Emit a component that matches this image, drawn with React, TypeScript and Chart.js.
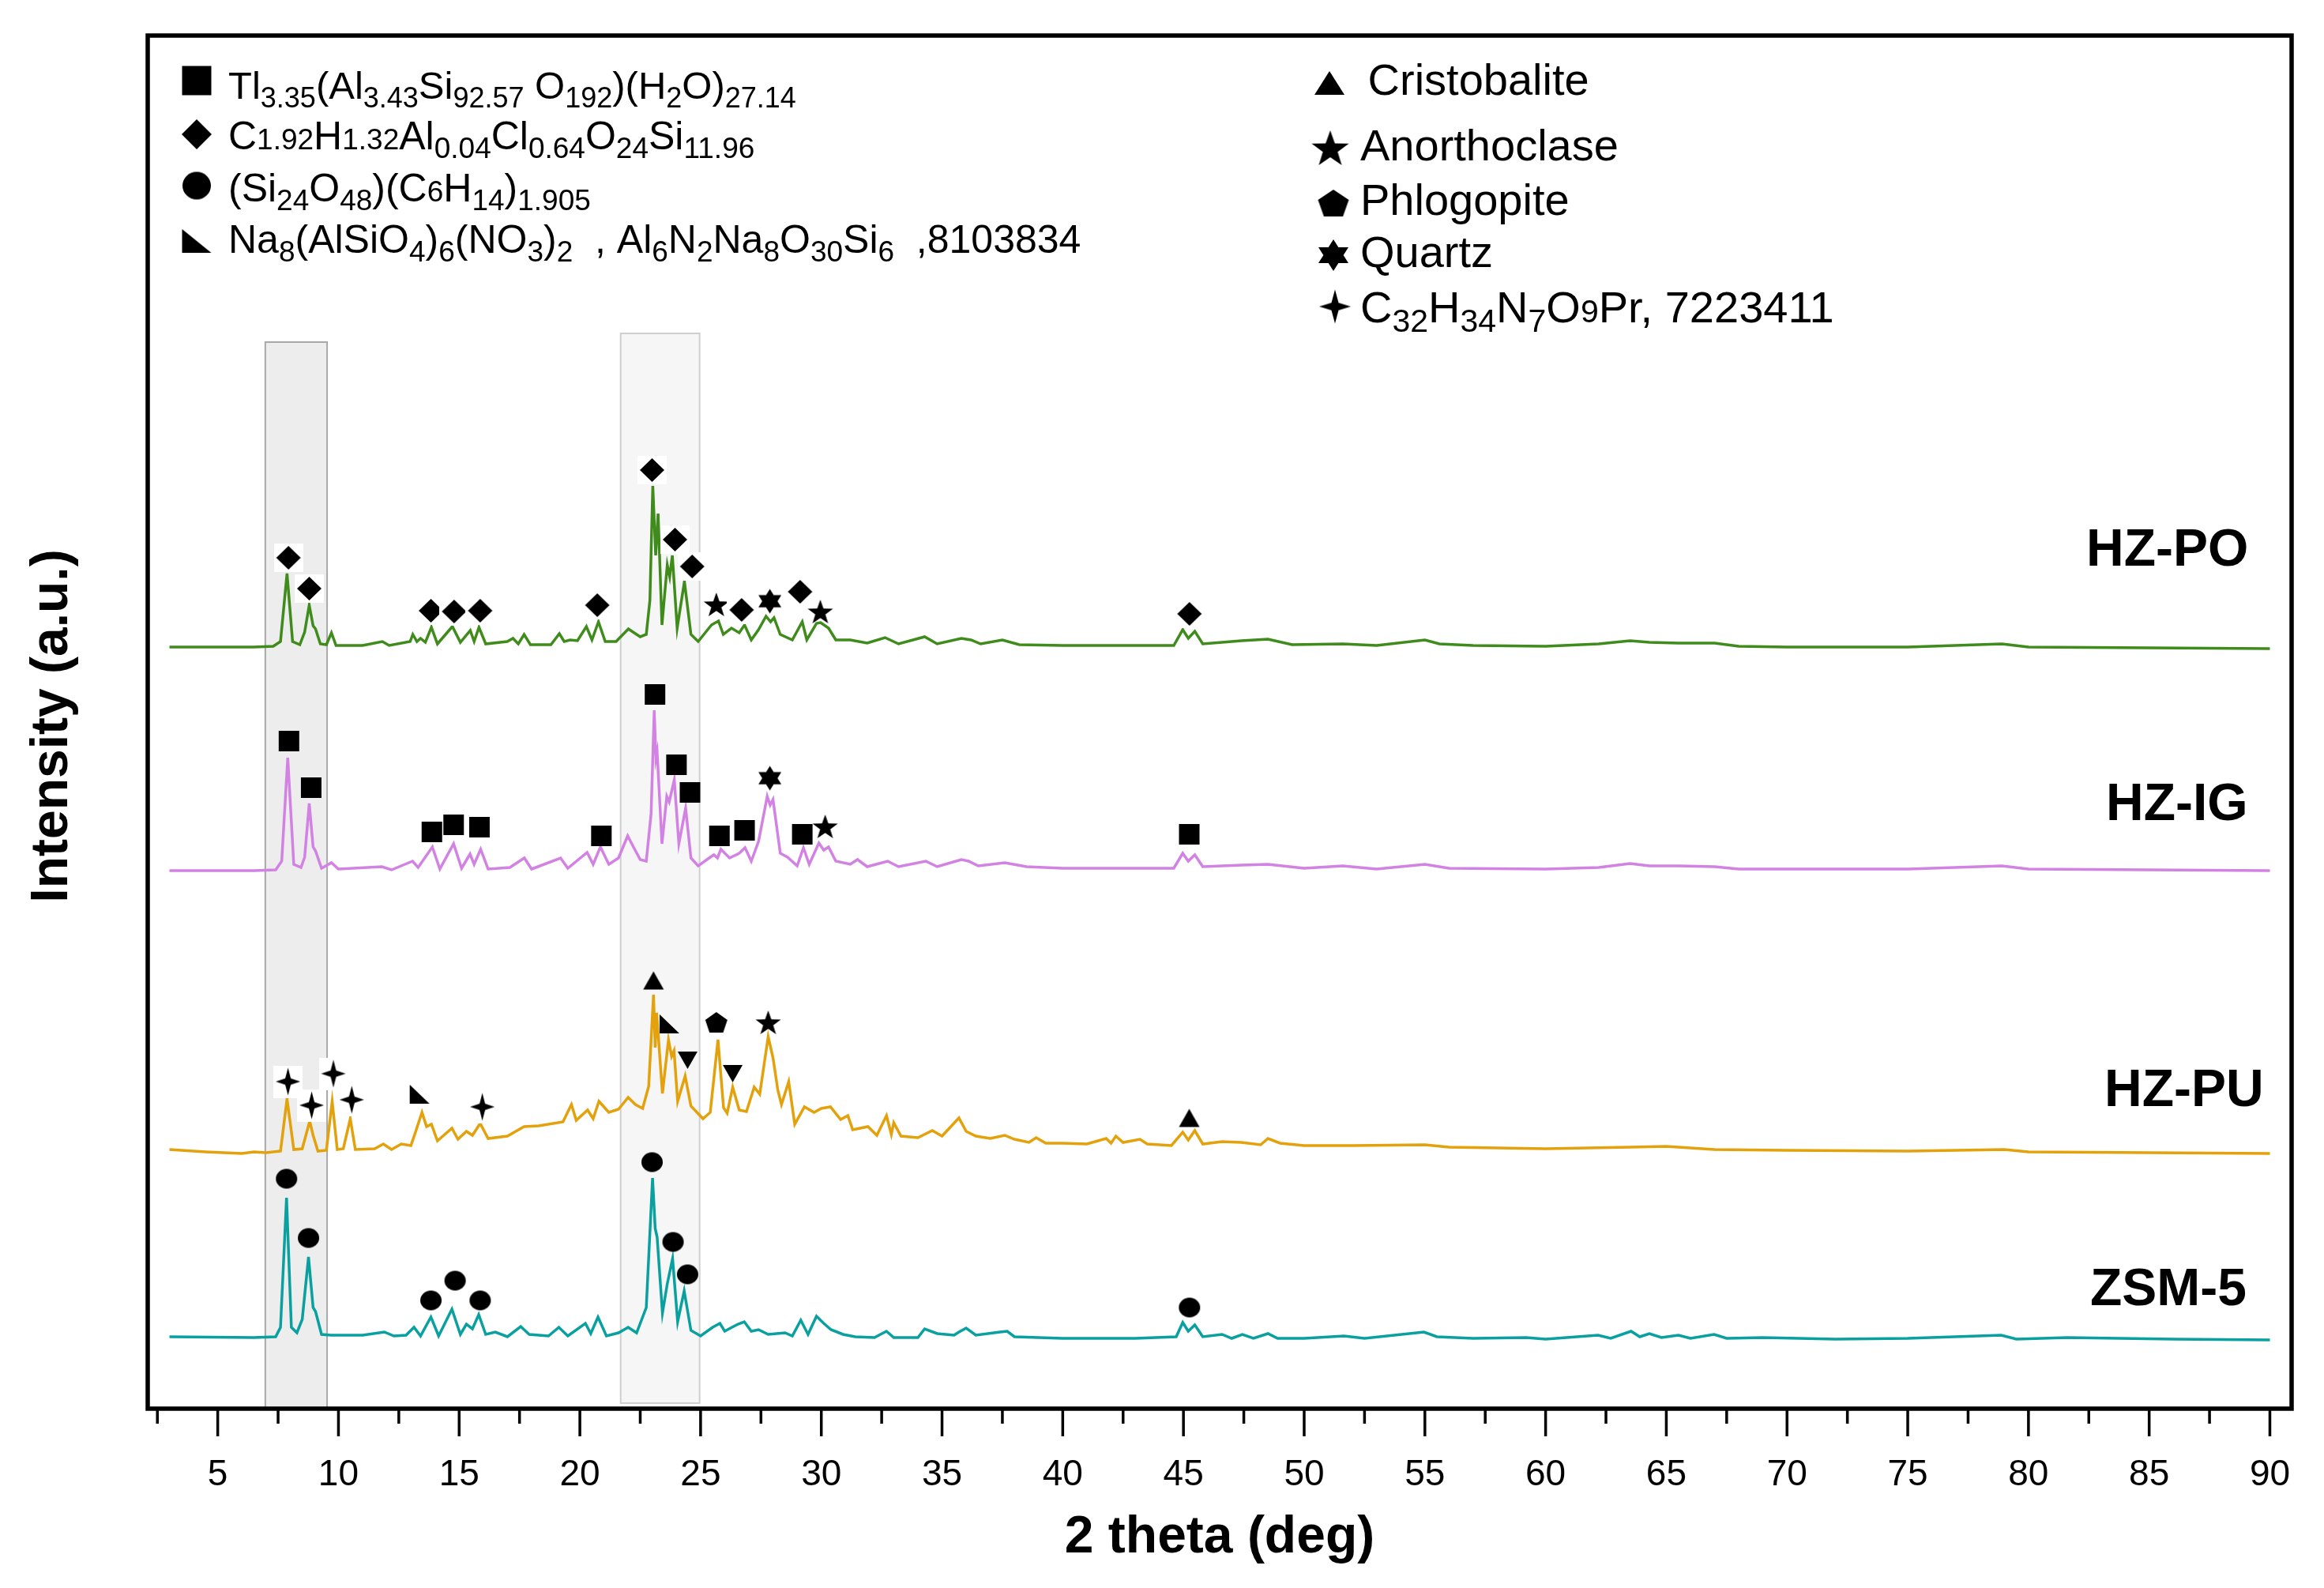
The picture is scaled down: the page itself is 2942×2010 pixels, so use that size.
import React, { useEffect, useRef } from 'react';
import { Chart, registerables } from 'chart.js';

Chart.register(...registerables);

// ---------------- DATA ----------------
const X_MIN = 2.1;
const X_MAX = 90.9;
const Y_MIN = 0;
const Y_MAX = 1738; // stacked intensity (a.u.)

const MAJOR_TICKS = [5, 10, 15, 20, 25, 30, 35, 40, 45, 50, 55, 60, 65, 70, 75, 80, 85, 90];
const MINOR_TICKS = [2.5, 7.5, 12.5, 17.5, 22.5, 27.5, 32.5, 37.5, 42.5, 47.5, 52.5, 57.5, 62.5, 67.5, 72.5, 77.5, 82.5, 87.5];

const SERIES_NAMES = ['HZ-PO', 'HZ-IG', 'HZ-PU', 'ZSM-5'];

// 2theta, stacked intensity
const HZ_PO: [number, number][] = [
  [3.0, 964], [6.5, 964], [7.3, 965], [7.6, 971], [7.87, 1057], [8.1, 971], [8.4, 967], [8.6, 983], [8.79, 1017], [8.95, 991],
  [9.05, 987], [9.25, 968], [9.5, 967], [9.71, 982], [9.9, 966], [11.0, 966], [11.82, 971], [12.1, 966], [12.97, 971], [13.08, 980],
  [13.25, 971], [13.4, 975], [13.6, 970], [13.85, 989], [14.1, 968], [14.72, 990], [15.05, 970], [15.46, 985], [15.62, 971], [15.82, 989],
  [16.1, 968], [16.99, 971], [17.23, 975], [17.45, 968], [17.69, 980], [17.95, 967], [18.8, 967], [19.15, 981], [19.35, 971], [19.6, 973],
  [19.9, 972], [20.27, 990], [20.5, 973], [20.77, 996], [21.05, 971], [21.5, 971], [22.01, 987], [22.2, 983], [22.5, 977], [22.75, 980],
  [22.9, 1023], [23.02, 1168], [23.14, 1080], [23.24, 1133], [23.4, 992], [23.62, 1068], [23.72, 1053], [23.83, 1080], [24.03, 988], [24.33, 1047],
  [24.6, 980], [24.9, 971], [25.45, 992], [25.74, 997], [25.94, 980], [26.28, 988], [26.6, 982], [26.82, 992], [27.1, 973], [27.4, 986],
  [27.71, 1003], [27.9, 996], [28.04, 1001], [28.3, 980], [28.8, 973], [29.21, 996], [29.4, 973], [29.8, 994], [29.97, 995], [30.3, 988],
  [30.6, 973], [31.2, 973], [31.9, 969], [32.64, 976], [33.2, 968], [34.28, 977], [34.8, 968], [35.8, 975], [36.2, 973], [36.6, 968],
  [37.5, 973], [38.2, 967], [40, 966], [42, 966], [44.6, 966], [44.97, 986], [45.2, 975], [45.47, 984], [45.8, 968], [46.6, 970],
  [47.4, 972], [48.5, 974], [49.5, 967], [51.6, 968], [53, 966], [55.0, 973], [55.6, 968], [57, 966], [60, 965], [62.2, 968],
  [63.5, 972], [64.3, 970], [65.5, 969], [67, 969], [68, 965], [70, 964], [75, 964], [78.9, 968], [80, 964], [85, 963], [90, 962],
];

const HZ_IG: [number, number][] = [
  [3.0, 681], [6.5, 681], [7.4, 682], [7.65, 693], [7.9, 824], [8.15, 689], [8.45, 685], [8.6, 698], [8.79, 766], [8.95, 711],
  [9.05, 706], [9.3, 684], [9.71, 691], [10, 683], [11.8, 686], [12.2, 682], [13.07, 693], [13.3, 685], [13.89, 711], [14.2, 683],
  [14.77, 715], [15.1, 684], [15.45, 702], [15.62, 689], [15.89, 708], [16.2, 683], [17.1, 685], [17.7, 697], [18.0, 683], [19.2, 697],
  [19.5, 684], [20.3, 704], [20.55, 689], [20.85, 711], [21.2, 689], [21.6, 697], [21.98, 725], [22.2, 712], [22.5, 695], [22.75, 693],
  [22.95, 753], [23.08, 884], [23.15, 823], [23.2, 831], [23.4, 715], [23.6, 775], [23.7, 768], [23.91, 796], [24.1, 715], [24.38, 760],
  [24.6, 697], [24.9, 687], [25.4, 698], [25.55, 701], [25.7, 697], [25.84, 708], [26.2, 697], [26.6, 703], [26.84, 710], [27.1, 693],
  [27.4, 718], [27.76, 775], [27.88, 764], [28.0, 771], [28.3, 703], [28.6, 698], [29.0, 687], [29.26, 710], [29.5, 689], [29.9, 716],
  [30.1, 707], [30.3, 711], [30.6, 693], [31.2, 689], [31.5, 695], [31.9, 686], [32.75, 693], [33.2, 686], [34.33, 693], [34.8, 686],
  [35.8, 695], [36.1, 693], [36.5, 687], [37.6, 691], [38.5, 686], [40, 684], [42, 684], [44.6, 684], [44.97, 703], [45.2, 693],
  [45.47, 701], [45.8, 686], [47.4, 688], [48.5, 689], [50, 684], [51.6, 687], [53, 683], [55, 689], [56, 684], [60, 683],
  [62.2, 685], [63.5, 690], [64.3, 687], [65.5, 687], [67, 686], [68, 683], [72, 683], [75, 683], [78.9, 687], [80, 683],
  [85, 682], [90, 681],
];

const HZ_PU: [number, number][] = [
  [3.0, 328], [4.5, 325], [6.0, 323], [6.5, 325], [7.0, 324], [7.6, 326], [7.87, 392], [8.15, 328], [8.5, 329], [8.81, 364],
  [8.95, 346], [9.15, 326], [9.5, 327], [9.74, 389], [9.95, 328], [10.2, 329], [10.49, 367], [10.7, 328], [11.5, 329], [11.86, 335],
  [12.2, 328], [12.6, 335], [13.0, 333], [13.18, 349], [13.46, 375], [13.65, 357], [13.85, 360], [14.1, 339], [14.7, 355], [14.95, 341],
  [15.3, 351], [15.55, 346], [15.87, 361], [16.2, 342], [17.0, 345], [17.69, 357], [18.3, 358], [19.3, 363], [19.65, 385], [19.85, 365],
  [20.32, 378], [20.55, 367], [20.79, 389], [21.2, 375], [21.6, 379], [22.0, 394], [22.3, 385], [22.6, 380], [22.85, 408], [23.05, 524],
  [23.12, 457], [23.18, 501], [23.42, 399], [23.67, 467], [23.8, 446], [23.9, 453], [24.05, 389], [24.36, 421], [24.6, 383], [25.1, 367],
  [25.4, 375], [25.72, 467], [25.95, 381], [26.1, 374], [26.33, 407], [26.6, 378], [26.9, 376], [27.22, 407], [27.45, 398], [27.8, 471],
  [28.0, 444], [28.2, 403], [28.35, 385], [28.65, 414], [28.9, 360], [29.3, 382], [29.7, 375], [30.0, 380], [30.38, 382], [30.8, 366],
  [31.1, 371], [31.3, 353], [31.93, 357], [32.3, 346], [32.7, 371], [32.9, 347], [33.0, 362], [33.3, 345], [34.0, 343], [34.6, 352],
  [35.0, 345], [35.7, 368], [36.0, 351], [36.4, 345], [37.0, 342], [37.6, 346], [38.0, 341], [38.6, 337], [38.9, 343], [39.3, 336],
  [40, 336], [41.0, 335], [41.8, 342], [42.0, 336], [42.2, 345], [42.5, 337], [43.2, 341], [43.5, 335], [44.5, 333], [44.97, 350],
  [45.2, 340], [45.47, 352], [45.8, 335], [46.6, 338], [47.4, 337], [48.2, 334], [48.5, 342], [49, 336], [50, 333], [52, 333],
  [55, 334], [56, 331], [60, 329], [63.5, 331], [65, 332], [67, 328], [70, 327], [75, 326], [79, 328], [80, 325],
  [85, 324], [90, 323],
];

const ZSM_5: [number, number][] = [
  [3.0, 91], [6.5, 90], [7.4, 91], [7.6, 103], [7.85, 267], [8.05, 103], [8.28, 96], [8.5, 113], [8.76, 192], [8.95, 128],
  [9.05, 123], [9.3, 94], [9.7, 93], [11.0, 93], [11.9, 97], [12.3, 92], [12.8, 93], [13.13, 103], [13.4, 92], [13.83, 116],
  [14.15, 92], [14.7, 126], [15.05, 94], [15.3, 107], [15.55, 101], [15.81, 119], [16.1, 94], [16.5, 97], [17.0, 91], [17.55, 104],
  [17.9, 94], [18.7, 92], [19.13, 103], [19.5, 92], [20.23, 108], [20.45, 95], [20.75, 116], [21.1, 92], [21.6, 96], [22.0, 103],
  [22.35, 96], [22.75, 128], [23.01, 292], [23.12, 228], [23.2, 217], [23.42, 121], [23.62, 158], [23.84, 190], [24.05, 110], [24.32, 149],
  [24.6, 99], [25.0, 92], [25.5, 103], [25.8, 108], [26.0, 98], [26.3, 103], [26.55, 107], [26.81, 110], [27.1, 98], [27.4, 100],
  [27.8, 94], [28.5, 96], [28.8, 92], [29.15, 112], [29.45, 94], [29.8, 117], [30.1, 108], [30.4, 100], [30.9, 94], [31.4, 91],
  [32.2, 90], [32.7, 98], [33.0, 90], [34.0, 90], [34.28, 101], [34.8, 95], [35.5, 93], [35.7, 97], [36.0, 102], [36.4, 93],
  [37.4, 97], [37.7, 98], [38.0, 91], [40, 89], [43, 89], [44.7, 91], [44.97, 109], [45.2, 98], [45.47, 106], [45.8, 91],
  [46.6, 94], [47.0, 89], [47.44, 94], [47.9, 89], [48.5, 95], [48.9, 89], [50, 89], [51.65, 92], [52.5, 89], [54.96, 97],
  [55.5, 91], [57, 89], [59.2, 90], [60, 88], [62.17, 93], [62.7, 89], [63.54, 98], [63.9, 91], [64.3, 95], [64.8, 90],
  [65.5, 93], [66.0, 89], [66.98, 94], [67.5, 89], [69.0, 90], [72, 88], [75, 89], [78.87, 93], [79.5, 88], [81.6, 90],
  [86, 88], [90, 87],
];

// Phase markers: [2theta, stacked intensity]
const PO_DIAMONDS: [number, number][] = [
  [7.93, 1077], [8.79, 1038], [13.83, 1010], [14.79, 1009], [15.87, 1010], [20.72, 1017],
  [22.99, 1188], [23.94, 1100], [24.65, 1066], [26.70, 1011], [29.12, 1034], [45.25, 1006],
];
const PO_STARS: [number, number][] = [[25.65, 1018], [29.96, 1009]];
const PO_QUARTZ: [number, number][] = [[27.87, 1022]];

const IG_SQUARES: [number, number][] = [
  [7.95, 845], [8.87, 786], [13.87, 730], [14.77, 739], [15.84, 736], [20.89, 725],
  [23.11, 904], [24.0, 815], [24.56, 780], [25.78, 725], [26.82, 732], [29.21, 727], [45.24, 727],
];
const IG_QUARTZ: [number, number][] = [[27.87, 798]];
const IG_STARS: [number, number][] = [[30.16, 737]];

const PU_C32: [number, number][] = [[7.91, 414], [8.89, 384], [9.79, 424], [10.55, 391], [15.96, 382]];
const PU_NA8: [number, number][] = [[13.36, 398], [23.71, 487]];
const PU_CRISTO: [number, number][] = [[23.05, 542], [45.24, 368]];
const PU_DOWN: [number, number][] = [[24.46, 441], [26.33, 424]];
const PU_PHLOGO: [number, number][] = [[25.65, 489]];
const PU_STARS: [number, number][] = [[27.8, 489]];

const ZSM_CIRCLES: [number, number][] = [
  [7.85, 291], [8.76, 216], [13.83, 137], [14.83, 162], [15.87, 137],
  [22.99, 312], [23.86, 211], [24.46, 170], [45.25, 128],
];

// Highlighted 2theta ranges: [from, to], top & bottom in intensity units
const SHADE_RANGES: [number, number][] = [[6.97, 9.53], [21.69, 24.96]];
const SHADE_TOPS = [1350, 1361];
const SHADE_BOTTOMS = [0, 7];

// Legend texts (segments: n = normal, s = lowered subscript, b = small at baseline)
const LEFT_LEGEND: { marker: string; segs: [string, string][] }[] = [
  { marker: 'square', segs: [['Tl', 'n'], ['3.35', 's'], ['(Al', 'n'], ['3.43', 's'], ['Si', 'n'], ['92.57', 's'], [' O', 'n'], ['192', 's'], [')(H', 'n'], ['2', 's'], ['O)', 'n'], ['27.14', 's']] },
  { marker: 'diamond', segs: [['C', 'n'], ['1.92', 'b'], ['H', 'n'], ['1.32', 'b'], ['Al', 'n'], ['0.04', 's'], ['Cl', 'n'], ['0.64', 's'], ['O', 'n'], ['24', 's'], ['Si', 'n'], ['11.96', 's']] },
  { marker: 'circle', segs: [['(Si', 'n'], ['24', 's'], ['O', 'n'], ['48', 's'], [')(C', 'n'], ['6', 'b'], ['H', 'n'], ['14', 's'], [')', 'n'], ['1.905', 's']] },
  { marker: 'rightTri', segs: [['Na', 'n'], ['8', 's'], ['(AlSiO', 'n'], ['4', 's'], [')', 'n'], ['6', 's'], ['(NO', 'n'], ['3', 's'], [')', 'n'], ['2', 's'], ['  , Al', 'n'], ['6', 's'], ['N', 'n'], ['2', 's'], ['Na', 'n'], ['8', 's'], ['O', 'n'], ['30', 's'], ['Si', 'n'], ['6', 's'], ['  ,8103834', 'n']] },
];
const RIGHT_LEGEND: { marker: string; segs: [string, string][] }[] = [
  { marker: 'triUp', segs: [[' Cristobalite', 'n']] },
  { marker: 'star', segs: [['Anorthoclase', 'n']] },
  { marker: 'pentagon', segs: [['Phlogopite', 'n']] },
  { marker: 'hexagram', segs: [['Quartz', 'n']] },
  { marker: 'fourStar', segs: [['C', 'n'], ['32', 's'], ['H', 'n'], ['34', 's'], ['N', 'n'], ['7', 's'], ['O', 'n'], ['9', 'b'], ['Pr, 7223411', 'n']] },
];

const X_TITLE = '2 theta (deg)';
const Y_TITLE = 'Intensity (a.u.)';

// ---------------- STYLE ----------------
const FONT = '"Liberation Sans", Arial, Helvetica, sans-serif';
const COLORS = ['#3f8b1c', '#d282e3', '#e3a10c', '#0aa0a0'];
const W = 2942;
const H = 2010;
const AREA = { left: 187, top: 45, right: 2901, bottom: 1783 };

const LABEL_POS = [
  { x: 2641, y: 716 },
  { x: 2666, y: 1038 },
  { x: 2664, y: 1400 },
  { x: 2646, y: 1652 },
];
const LEFT_LEG_POS = { markerX: 249, textX: 289, baselines: [125, 189, 255, 320], markerY: [102, 170, 235, 305], fonts: [49, 50, 50, 50] };
const RIGHT_LEG_POS = { markerX: [1683, 1684, 1688, 1688, 1690], textX: [1716, 1722, 1722, 1722, 1722], baselines: [120, 203, 272, 338, 408], markerY: [105, 187, 257, 323, 388] };

const MARKER_SIZE: Record<string, [number, number]> = {
  square: [26, 26], diamond: [31, 30], circle: [27, 25], star: [32, 30], hexagram: [29, 31],
  triUp: [26, 23], triDown: [25, 22], rightTri: [25, 24], pentagon: [28, 26], fourStar: [31, 35],
};
const LEGEND_MARKER_SIZE: Record<string, [number, number]> = {
  square: [37, 37], diamond: [38, 38], circle: [36, 35], rightTri: [37, 30],
  triUp: [38, 30], star: [47, 44], pentagon: [39, 34], hexagram: [38, 40], fourStar: [40, 43],
};

function makeMarker(shape: string, w: number, h: number, bg = false): HTMLCanvasElement {
  const pad = bg ? 3 : 1;
  const c = document.createElement('canvas');
  c.width = Math.ceil(w + pad * 2);
  c.height = Math.ceil(h + pad * 2);
  const g = c.getContext('2d') as CanvasRenderingContext2D;
  if (bg) {
    g.fillStyle = '#ffffff';
    g.fillRect(0, 0, c.width, c.height);
  }
  g.translate(pad, pad);
  g.fillStyle = '#000000';
  g.beginPath();
  const cx = w / 2;
  const poly = (pts: [number, number][]) => {
    pts.forEach(([px, py], i) => (i === 0 ? g.moveTo(px, py) : g.lineTo(px, py)));
    g.closePath();
  };
  if (shape === 'square') {
    g.rect(0, 0, w, h);
  } else if (shape === 'diamond') {
    poly([[cx, 0], [w, h / 2], [cx, h], [0, h / 2]]);
  } else if (shape === 'circle') {
    g.ellipse(cx, h / 2, w / 2, h / 2, 0, 0, Math.PI * 2);
  } else if (shape === 'triUp') {
    poly([[cx, 0], [w, h], [0, h]]);
  } else if (shape === 'triDown') {
    poly([[0, 0], [w, 0], [cx, h]]);
  } else if (shape === 'rightTri') {
    poly([[0, 0], [w, h], [0, h]]);
  } else if (shape === 'pentagon' || shape === 'star') {
    const R = Math.min(w / 1.902, h / 1.809);
    const cy = R + (h - 1.809 * R) / 2;
    const pts: [number, number][] = [];
    const n = shape === 'pentagon' ? 5 : 10;
    for (let k = 0; k < n; k++) {
      const a = -Math.PI / 2 + (k * 2 * Math.PI) / n;
      const r = shape === 'star' && k % 2 === 1 ? R * 0.4 : R;
      pts.push([cx + r * Math.cos(a) * (w / (1.902 * R)), cy + r * Math.sin(a)]);
    }
    poly(pts);
  } else if (shape === 'hexagram') {
    const R = h / 2;
    const sx = w / (1.732 * R);
    const cy = h / 2;
    const tri = (off: number) => {
      const pts: [number, number][] = [];
      for (let k = 0; k < 3; k++) {
        const a = off + (k * 2 * Math.PI) / 3;
        pts.push([cx + R * Math.cos(a) * sx, cy + R * Math.sin(a)]);
      }
      poly(pts);
    };
    tri(-Math.PI / 2);
    tri(Math.PI / 2);
  } else if (shape === 'fourStar') {
    const pts: [number, number][] = [];
    for (let k = 0; k < 8; k++) {
      const a = -Math.PI / 2 + (k * Math.PI) / 4;
      const f = k % 2 === 1 ? 0.32 : 1;
      pts.push([cx + Math.cos(a) * (w / 2) * f, h / 2 + Math.sin(a) * (h / 2) * f]);
    }
    poly(pts);
  }
  g.fill();
  return c;
}

function drawRich(ctx: CanvasRenderingContext2D, x: number, y: number, segs: [string, string][], F: number, fs: number, drop: number) {
  let cx = x;
  ctx.textAlign = 'left';
  ctx.textBaseline = 'alphabetic';
  ctx.fillStyle = '#000';
  segs.forEach(([t, m]) => {
    if (m === 'n') {
      ctx.font = `${F}px ${FONT}`;
      ctx.fillText(t, cx, y);
    } else {
      ctx.font = `${fs}px ${FONT}`;
      ctx.fillText(t, cx, m === 's' ? y + drop : y);
    }
    cx += ctx.measureText(t).width;
  });
}

const toPts = (arr: [number, number][]) => arr.map(([x, y]) => ({ x, y }));

export default function App() {
  const ref = useRef<HTMLCanvasElement>(null);

  useEffect(() => {
    const canvas = ref.current;
    if (!canvas) return;

    const mk: Record<string, HTMLCanvasElement> = {};
    Object.keys(MARKER_SIZE).forEach((k) => {
      const [w, h] = MARKER_SIZE[k];
      mk[k] = makeMarker(k, w, h, k === 'diamond' || k === 'fourStar');
    });
    const legendMk: Record<string, HTMLCanvasElement> = {};
    Object.keys(LEGEND_MARKER_SIZE).forEach((k) => {
      const [w, h] = LEGEND_MARKER_SIZE[k];
      legendMk[k] = makeMarker(k, w, h, false);
    });

    const lineSets = [HZ_PO, HZ_IG, HZ_PU, ZSM_5].map((arr, i) => ({
      label: SERIES_NAMES[i],
      data: toPts(arr),
      showLine: true,
      borderColor: COLORS[i],
      backgroundColor: COLORS[i],
      borderWidth: 3.5,
      pointRadius: 0,
      tension: 0,
      fill: false,
      order: 2,
    }));

    const markerDefs: [string, [number, number][]][] = [
      ['diamond', PO_DIAMONDS], ['star', PO_STARS], ['hexagram', PO_QUARTZ],
      ['square', IG_SQUARES], ['hexagram', IG_QUARTZ], ['star', IG_STARS],
      ['fourStar', PU_C32], ['rightTri', PU_NA8], ['triUp', PU_CRISTO], ['triDown', PU_DOWN],
      ['pentagon', PU_PHLOGO], ['star', PU_STARS],
      ['circle', ZSM_CIRCLES],
    ];
    const markerSets = markerDefs.map(([shape, arr]) => ({
      label: shape,
      data: toPts(arr),
      showLine: false,
      pointStyle: mk[shape],
      pointRadius: 12,
      pointHoverRadius: 12,
      order: 0,
    }));

    const decor = {
      id: 'decor',
      beforeDatasetsDraw(chart: any) {
        const { ctx, scales } = chart;
        const xs = scales.x;
        const ys = scales.y;
        ctx.save();
        SHADE_RANGES.forEach(([a, b], i) => {
          const x0 = xs.getPixelForValue(a);
          const x1 = xs.getPixelForValue(b);
          const y0 = ys.getPixelForValue(SHADE_TOPS[i]);
          const y1 = ys.getPixelForValue(SHADE_BOTTOMS[i]);
          ctx.fillStyle = i === 0 ? '#ededed' : '#f6f6f6';
          ctx.fillRect(x0, y0, x1 - x0, y1 - y0);
          ctx.strokeStyle = i === 0 ? '#a8a8a8' : '#cfcfcf';
          ctx.lineWidth = 2;
          ctx.strokeRect(x0, y0, x1 - x0, y1 - y0);
        });
        ctx.restore();
      },
      afterDatasetsDraw(chart: any) {
        const { ctx, scales, chartArea } = chart;
        const xs = scales.x;
        ctx.save();
        // frame
        ctx.strokeStyle = '#000';
        ctx.lineWidth = 5.5;
        ctx.strokeRect(chartArea.left, chartArea.top, chartArea.right - chartArea.left, chartArea.bottom - chartArea.top);
        // ticks
        const axisY = chartArea.bottom;
        ctx.lineWidth = 3.5;
        MAJOR_TICKS.forEach((v) => {
          const px = xs.getPixelForValue(v);
          ctx.beginPath();
          ctx.moveTo(px, axisY);
          ctx.lineTo(px, axisY + 35);
          ctx.stroke();
        });
        MINOR_TICKS.forEach((v) => {
          const px = xs.getPixelForValue(v);
          ctx.beginPath();
          ctx.moveTo(px, axisY);
          ctx.lineTo(px, axisY + 19);
          ctx.stroke();
        });
        // tick labels
        ctx.fillStyle = '#000';
        ctx.font = `46px ${FONT}`;
        ctx.textAlign = 'center';
        ctx.textBaseline = 'alphabetic';
        MAJOR_TICKS.forEach((v) => {
          ctx.fillText(String(v), xs.getPixelForValue(v), 1880);
        });
        // axis titles
        ctx.font = `bold 66px ${FONT}`;
        ctx.fillText(X_TITLE, (chartArea.left + chartArea.right) / 2, 1965);
        ctx.save();
        ctx.translate(85, (chartArea.top + chartArea.bottom) / 2 + 5);
        ctx.rotate(-Math.PI / 2);
        ctx.fillText(Y_TITLE, 0, 0);
        ctx.restore();
        // series labels
        ctx.textAlign = 'left';
        SERIES_NAMES.forEach((n, i) => {
          ctx.fillText(n, LABEL_POS[i].x, LABEL_POS[i].y);
        });
        // left legend
        LEFT_LEGEND.forEach((e, i) => {
          const m = legendMk[e.marker];
          ctx.drawImage(m, LEFT_LEG_POS.markerX - m.width / 2, LEFT_LEG_POS.markerY[i] - m.height / 2);
          const F = LEFT_LEG_POS.fonts[i];
          drawRich(ctx, LEFT_LEG_POS.textX, LEFT_LEG_POS.baselines[i], e.segs, F, Math.round(F * 0.73), 11);
        });
        // right legend
        RIGHT_LEGEND.forEach((e, i) => {
          const m = legendMk[e.marker];
          ctx.drawImage(m, RIGHT_LEG_POS.markerX[i] - m.width / 2, RIGHT_LEG_POS.markerY[i] - m.height / 2);
          drawRich(ctx, RIGHT_LEG_POS.textX[i], RIGHT_LEG_POS.baselines[i], e.segs, 56, 41, 12);
        });
        ctx.restore();
      },
    };

    const chart = new Chart(canvas, {
      type: 'scatter',
      data: { datasets: [...markerSets, ...lineSets] as any },
      options: {
        animation: false,
        responsive: false,
        devicePixelRatio: 1,
        events: [],
        layout: { padding: { left: AREA.left, top: AREA.top, right: W - AREA.right, bottom: H - AREA.bottom } },
        scales: {
          x: { type: 'linear', min: X_MIN, max: X_MAX, display: false },
          y: { type: 'linear', min: Y_MIN, max: Y_MAX, display: false },
        },
        plugins: { legend: { display: false }, tooltip: { enabled: false } },
      } as any,
      plugins: [decor],
    });

    return () => chart.destroy();
  }, []);

  return (
    <div style={{ position: 'absolute', left: 0, top: 0, width: W, height: H, background: '#fff' }}>
      <canvas ref={ref} width={W} height={H} style={{ display: 'block', width: W, height: H }} />
    </div>
  );
}
